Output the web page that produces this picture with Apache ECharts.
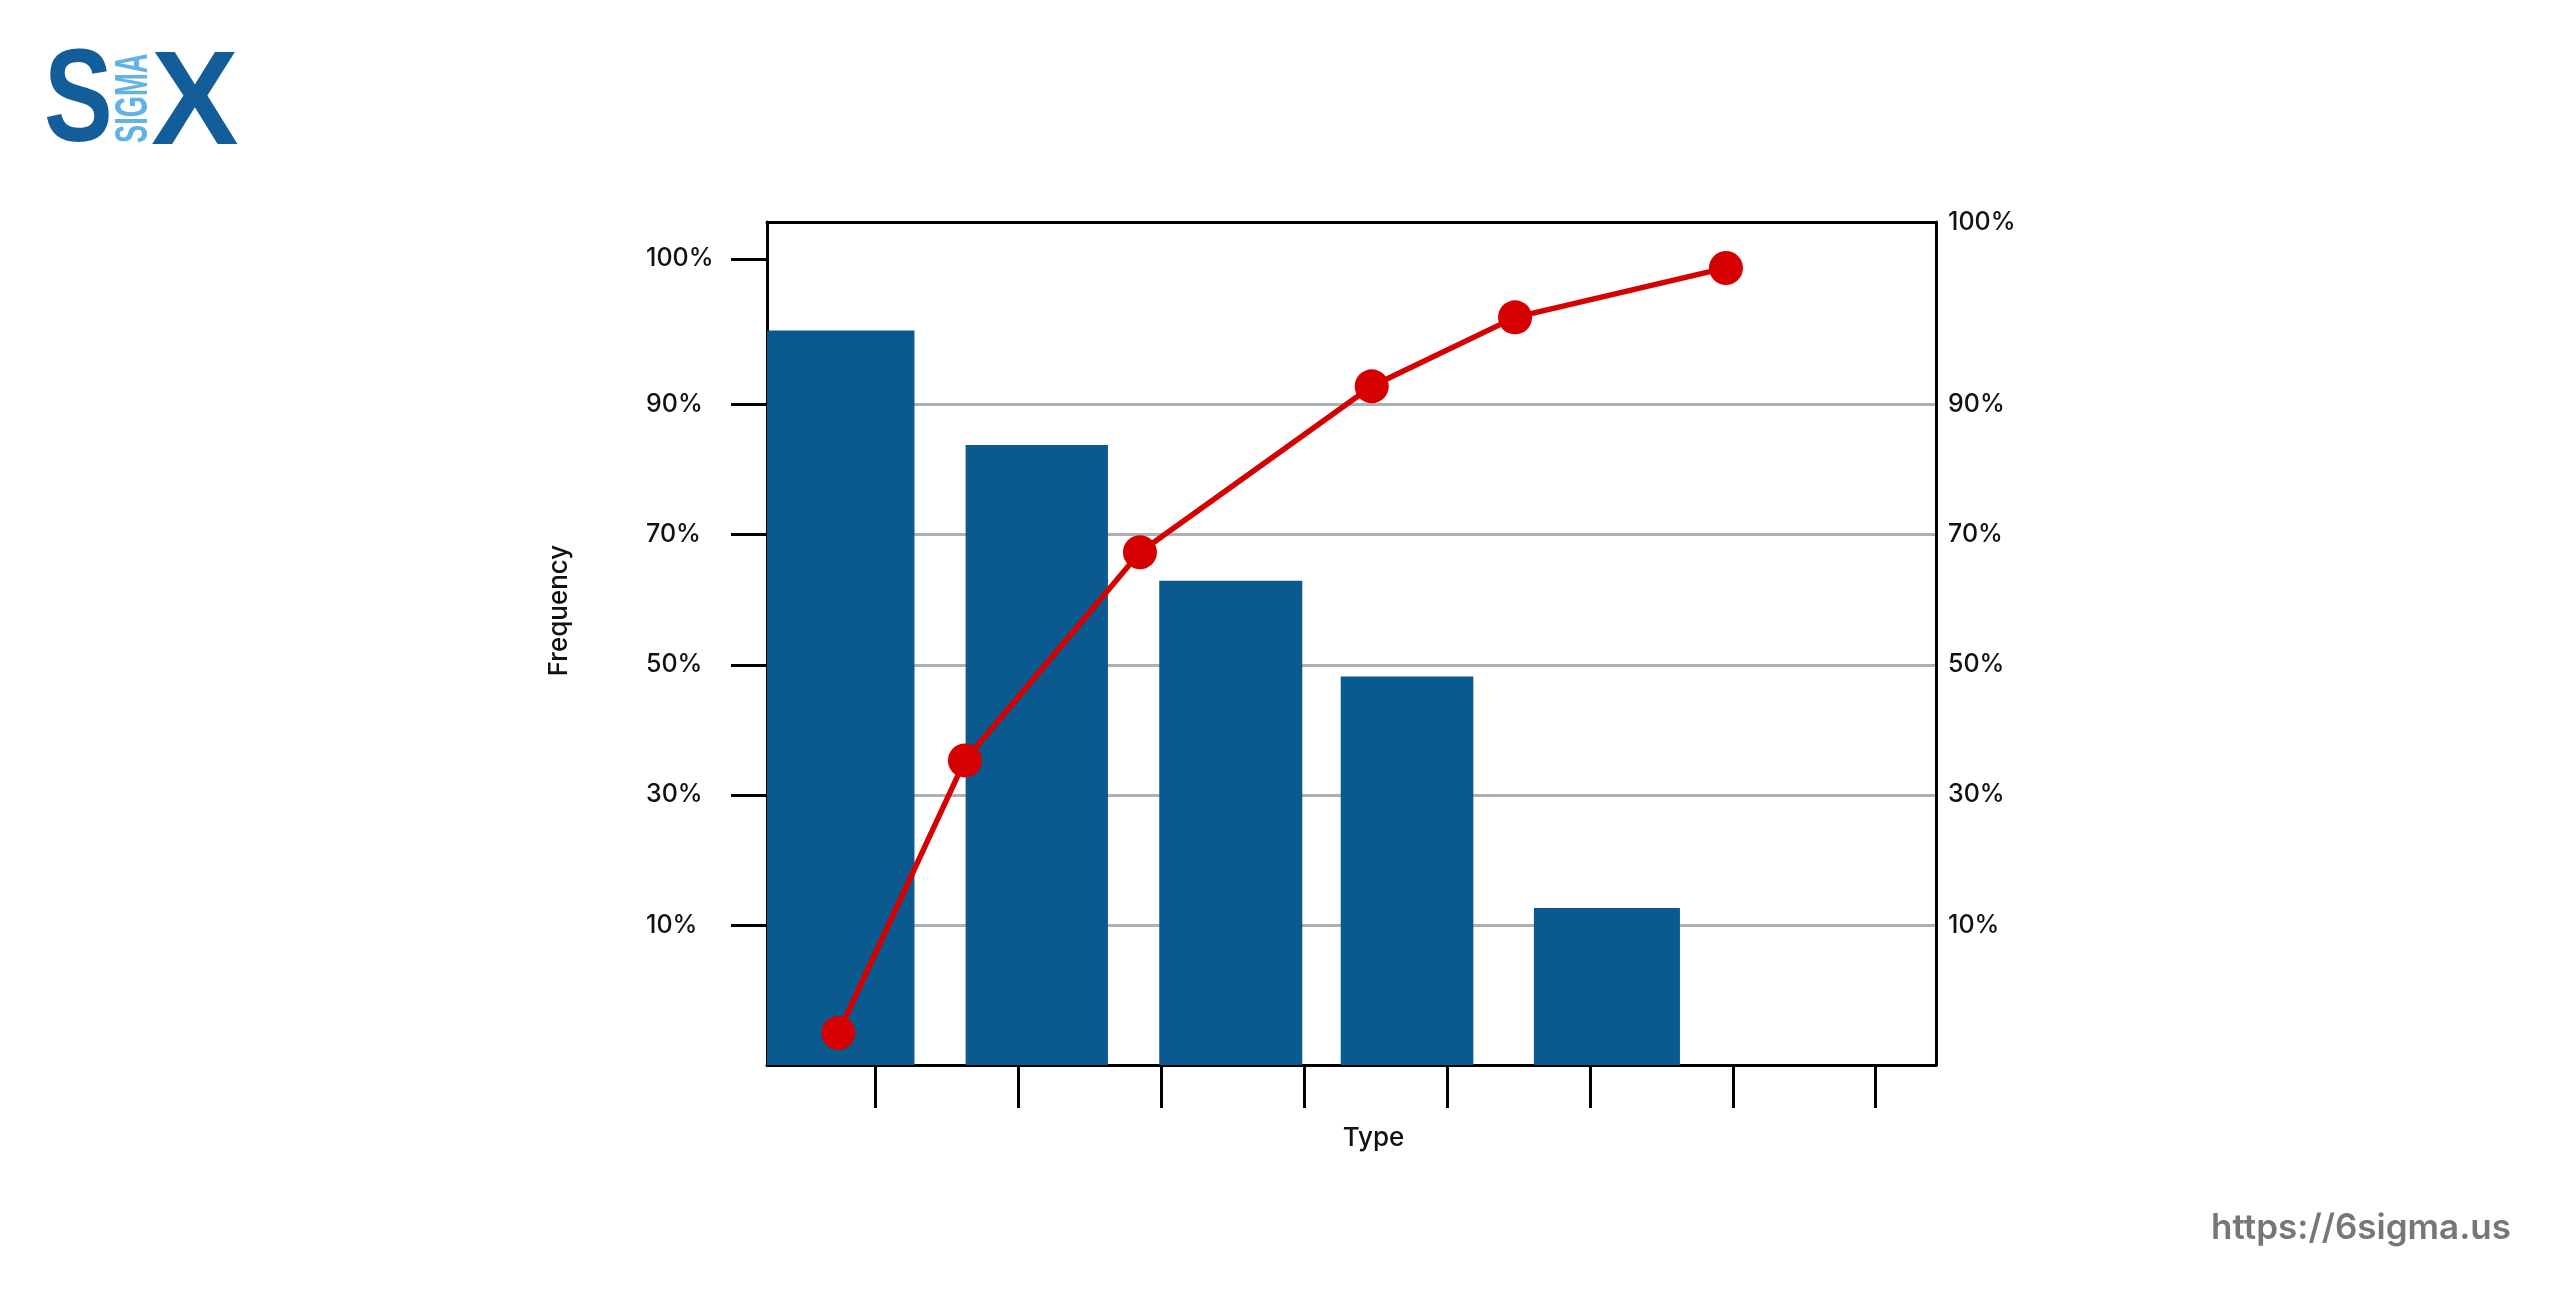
<!DOCTYPE html>
<html>
<head>
<meta charset="utf-8">
<script src="https://cdn.jsdelivr.net/npm/echarts@6.0.0/dist/echarts.min.js"></script>
<style>
html,body{margin:0;padding:0;background:#ffffff;}
#chart{width:2560px;height:1299px;}
</style>
</head>
<body>
<div id="chart"></div>
<script>
// ---- Data ----
// Bars: horizontal extent on the Type axis and height on the Frequency axis
const barStart  = [0.241, 1.631, 2.986, 4.256, 5.608];
const barEnd    = [1.273, 2.627, 3.987, 5.184, 6.630];
const barValues = [101.4, 83.8, 62.9, 48.2, 12.6];

// Cumulative line points
const lineX = [0.740, 1.626, 2.851, 4.473, 5.476, 6.952];
const lineY = [-6.6, 35.3, 67.3, 92.8, 103.4, 111.0];

// Axis ticks and labels
const xTickValues     = [1, 2, 3, 4, 5, 6, 7, 8];
const leftTickValues  = [10, 30, 50, 70, 90, 112.4];
const leftTickLabels  = ['10%', '30%', '50%', '70%', '90%', '100%'];
const rightTickValues = [10, 30, 50, 70, 90, 118.06];
const rightTickLabels = ['10%', '30%', '50%', '70%', '90%', '100%'];
const gridValues      = [10, 30, 50, 70, 90];

const X_MIN = 0.241, X_MAX = 8.422;
const Y_MIN = -11.52, Y_MAX = 118.06;

const BAR_COLOR  = '#0b5a8f';
const LINE_COLOR = '#d60000';

function labelLookup(values, labels) {
  return function (v) {
    let best = 0;
    for (let i = 1; i < values.length; i++) {
      if (Math.abs(values[i] - v) < Math.abs(values[best] - v)) best = i;
    }
    return labels[best];
  };
}

const chart = echarts.init(document.getElementById('chart'), null, {renderer: 'canvas'});

const labelStyle = {color: '#111111', fontFamily: 'Inter', fontSize: 25, fontWeight: 500};

const option = {
  backgroundColor: '#ffffff',
  animation: false,
  grid: {left: 767, top: 222, width: 1169, height: 843, containLabel: false, outerBoundsMode: 'none'},
  xAxis: [
    {
      type: 'value', min: X_MIN, max: X_MAX, position: 'bottom',
      name: 'Type', nameLocation: 'middle', nameGap: 60,
      nameTextStyle: {color: '#111111', fontFamily: 'Inter', fontSize: 26, fontWeight: 500, padding: [0, 0, 0, 44]},
      axisLine: {show: true, onZero: false, lineStyle: {color: '#000000', width: 3}},
      axisTick: {show: true, customValues: xTickValues, length: 43, inside: false, lineStyle: {color: '#000000', width: 3}},
      axisLabel: {show: false},
      splitLine: {show: false}
    },
    {
      type: 'value', min: X_MIN, max: X_MAX, position: 'top',
      axisLine: {show: true, onZero: false, lineStyle: {color: '#000000', width: 3}},
      axisTick: {show: false},
      axisLabel: {show: false},
      splitLine: {show: false}
    }
  ],
  yAxis: [
    {
      type: 'value', min: Y_MIN, max: Y_MAX, position: 'left',
      name: 'Frequency', nameLocation: 'middle', nameGap: 195,
      nameTextStyle: {color: '#111111', fontFamily: 'Inter', fontSize: 26, fontWeight: 500, padding: [0, 0, 0, 66]},
      axisLine: {show: true, onZero: false, lineStyle: {color: '#000000', width: 3}},
      axisTick: {show: true, customValues: leftTickValues, length: 36, inside: false, lineStyle: {color: '#000000', width: 3}},
      axisLabel: Object.assign({customValues: leftTickValues, formatter: labelLookup(leftTickValues, leftTickLabels), align: 'left', margin: 121}, labelStyle),
      splitLine: {show: false}
    },
    {
      type: 'value', min: Y_MIN, max: Y_MAX, position: 'right',
      axisLine: {show: true, onZero: false, lineStyle: {color: '#000000', width: 3}},
      axisTick: {show: false, customValues: gridValues},
      axisLabel: Object.assign({customValues: rightTickValues, formatter: labelLookup(rightTickValues, rightTickLabels), align: 'left', margin: 12}, labelStyle),
      splitLine: {show: true, lineStyle: {color: '#b0b0b0', width: 3}}
    }
  ],
  series: [
    {
      name: 'Frequency',
      type: 'custom',
      xAxisIndex: 0, yAxisIndex: 0,
      encode: {x: [0, 1], y: 2},
      data: barStart.map((s, i) => [s, barEnd[i], barValues[i]]),
      renderItem: function (params, api) {
        const p0 = api.coord([api.value(0), api.value(2)]);
        const p1 = api.coord([api.value(1), Y_MIN]);
        return {
          type: 'rect',
          shape: {x: p0[0], y: p0[1], width: p1[0] - p0[0], height: p1[1] - p0[1]},
          style: {fill: BAR_COLOR}
        };
      },
      z: 2
    },
    {
      name: 'Cumulative %',
      type: 'line',
      xAxisIndex: 0, yAxisIndex: 0,
      data: lineX.map((x, i) => [x, lineY[i]]),
      symbol: 'circle', symbolSize: 34,
      lineStyle: {color: LINE_COLOR, width: 5.5},
      itemStyle: {color: LINE_COLOR},
      clip: false,
      z: 5
    }
  ],
  graphic: [
    {type: 'text', x: 44, y: 105, scaleX: 0.78, style: {text: 'S', font: 'bold 132px "Liberation Sans"', fill: '#135d9a', verticalAlign: 'middle', align: 'left'}},
    {type: 'text', x: 158, y: 143, rotation: Math.PI / 2, scaleX: 0.58, style: {text: 'SIGMA', font: 'bold 47px "Liberation Sans"', fill: '#62b2e6', verticalAlign: 'bottom', align: 'left'}},
    {type: 'text', x: 151, y: 107, scaleX: 0.98, style: {text: 'X', font: 'bold 134px "Liberation Sans"', fill: '#135d9a', verticalAlign: 'middle', align: 'left'}},
    {type: 'text', x: 2511, y: 1228, style: {text: 'https://6sigma.us', font: '600 35px Inter', fill: '#777777', verticalAlign: 'middle', align: 'right'}}
  ]
};

chart.setOption(option);
</script>
</body>
</html>
